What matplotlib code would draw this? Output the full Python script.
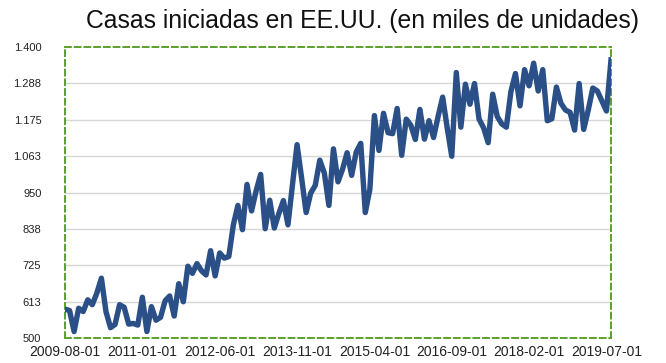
import matplotlib
matplotlib.use("Agg")
import matplotlib.pyplot as plt

title = "Casas iniciadas en EE.UU. (en miles de unidades)"

x_tick_labels = ["2009-08-01", "2011-01-01", "2012-06-01", "2013-11-01",
                 "2015-04-01", "2016-09-01", "2018-02-01", "2019-07-01"]
x_tick_step = 17

y_ticks = [500, 612.5, 725, 837.5, 950, 1062.5, 1175, 1287.5, 1400]
y_tick_labels = ["500", "613", "725", "838", "950", "1.063", "1.175", "1.288", "1.400"]

starts = [
    589, 585, 520, 592, 582, 618, 603, 639, 685, 582,
    532, 542, 603, 595, 543, 545, 540, 626, 520, 597,
    555, 564, 615, 630, 568, 668, 612, 722, 700, 730,
    708, 695, 770, 692, 763, 747, 752, 850, 910, 835,
    975, 893, 955, 1006, 838, 926, 840, 885, 925, 850,
    975, 1098, 995, 888, 948, 972, 1050, 1010, 910, 1085,
    983, 1022, 1073, 1003, 1075, 1102, 888, 960, 1188, 1080,
    1195, 1135, 1132, 1210, 1065, 1177, 1158, 1114, 1207, 1115,
    1172, 1120, 1185, 1245, 1150, 1062, 1321, 1152, 1285, 1223,
    1287, 1177, 1150, 1104, 1254, 1185, 1162, 1152, 1262, 1318,
    1218, 1330, 1280, 1350, 1264, 1330, 1172, 1178, 1276, 1226,
    1205, 1198, 1143, 1287, 1145, 1205, 1273, 1264, 1233, 1202,
    1360,
]

plt.rcParams['font.family'] = ['Liberation Sans', 'DejaVu Sans']

fig = plt.figure(figsize=(6.66, 3.63), dpi=100)
ax = fig.add_axes([65/666, 1-338/363, 546/666, 291/363])

xs = list(range(len(starts)))
ax.plot(xs, starts, color="#2b5088", linewidth=3.9, solid_joinstyle="round", zorder=3)

ax.set_xlim(0, len(starts) - 1)
ax.set_ylim(500, 1400)

ax.set_yticks(y_ticks)
ax.set_yticklabels(y_tick_labels, fontsize=8, color="#222222")
ax.set_xticks([i * x_tick_step for i in range(len(x_tick_labels))])
ax.set_xticklabels(x_tick_labels, fontsize=10, color="#222222")
ax.tick_params(axis="both", length=0)
ax.tick_params(axis="y", pad=17)
ax.tick_params(axis="x", pad=5)

for v in y_ticks[1:-1]:
    ax.axhline(v, color="#d6d6d6", linewidth=1.0, zorder=1)

for s in ax.spines.values():
    s.set_color("#5aa02c")
    s.set_linestyle((0, (3, 2)))
    s.set_linewidth(1.4)

fig.text(0.544, 0.943, title, ha="center", va="center", fontsize=17.8, color="#111111")

fig.savefig("out.png", dpi=100)
